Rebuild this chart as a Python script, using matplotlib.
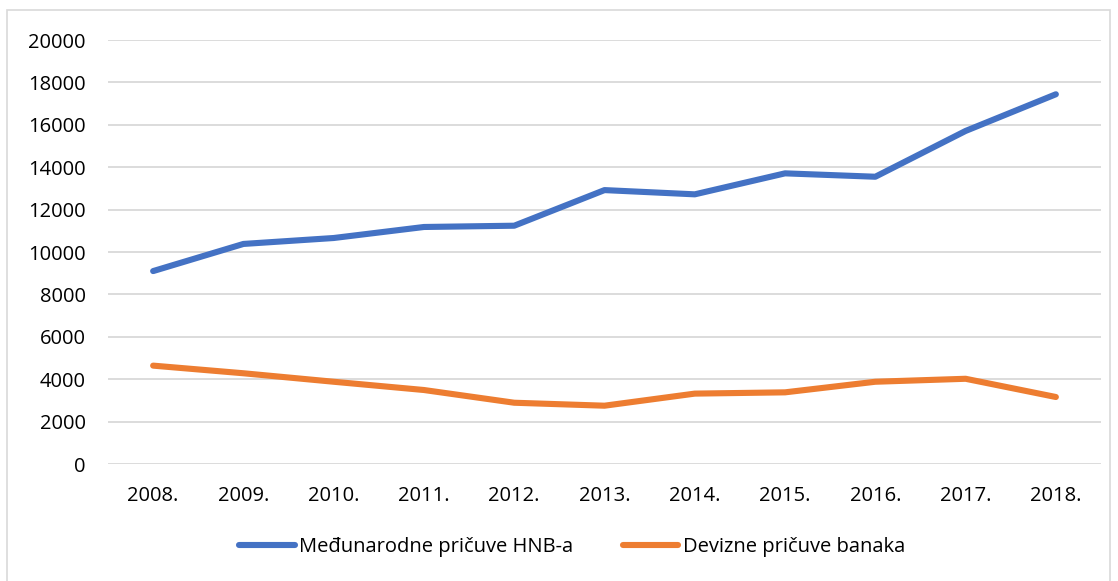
import matplotlib
matplotlib.use('Agg')
import matplotlib.pyplot as plt
from matplotlib.patches import Rectangle

years = ['2008.', '2009.', '2010.', '2011.', '2012.', '2013.', '2014.', '2015.', '2016.', '2017.', '2018.']
hnb = [9100, 10380, 10660, 11180, 11240, 12920, 12720, 13710, 13550, 15710, 17440]
banke = [4640, 4280, 3880, 3490, 2890, 2750, 3320, 3380, 3880, 4020, 3160]

plt.rcParams['font.family'] = ['Open Sans', 'DejaVu Sans']
plt.rcParams['font.size'] = 14.5

fig = plt.figure(figsize=(11.18, 5.81), dpi=100)
W, H = 1118, 581
ax = fig.add_axes([108/W, (H-464)/H, (1101-108)/W, (464-40)/H])

x = range(len(years))
ax.plot(x, hnb, color='#4472C4', lw=4.4, solid_capstyle='round', label='Međunarodne pričuve HNB-a')
ax.plot(x, banke, color='#ED7D31', lw=4.4, solid_capstyle='round', label='Devizne pričuve banaka')

ax.set_xlim(-0.5, 10.5)
ax.set_ylim(0, 20000)
ax.set_yticks(range(0, 20001, 2000))
ax.set_xticks(list(x))
ax.set_xticklabels(years)
ax.grid(axis='y', color='#D9D9D9', lw=1.3)
ax.set_axisbelow(True)
for s in ax.spines.values():
    s.set_visible(False)
ax.tick_params(length=0, colors='#000000')
ax.tick_params(axis='y', pad=16)
ax.tick_params(axis='x', pad=16)

leg = fig.legend(loc='center', bbox_to_anchor=(572/W, (H-547)/H), ncol=2, frameon=False,
                 handlelength=2.75, handletextpad=0.2, columnspacing=2.5)

fig.patches.append(Rectangle((7/W, -0.05), (1110-7)/W, (H-10)/H + 0.05, transform=fig.transFigure,
                             fill=False, edgecolor='#D9D9D9', lw=1.2))

fig.savefig('out.png', dpi=100)
